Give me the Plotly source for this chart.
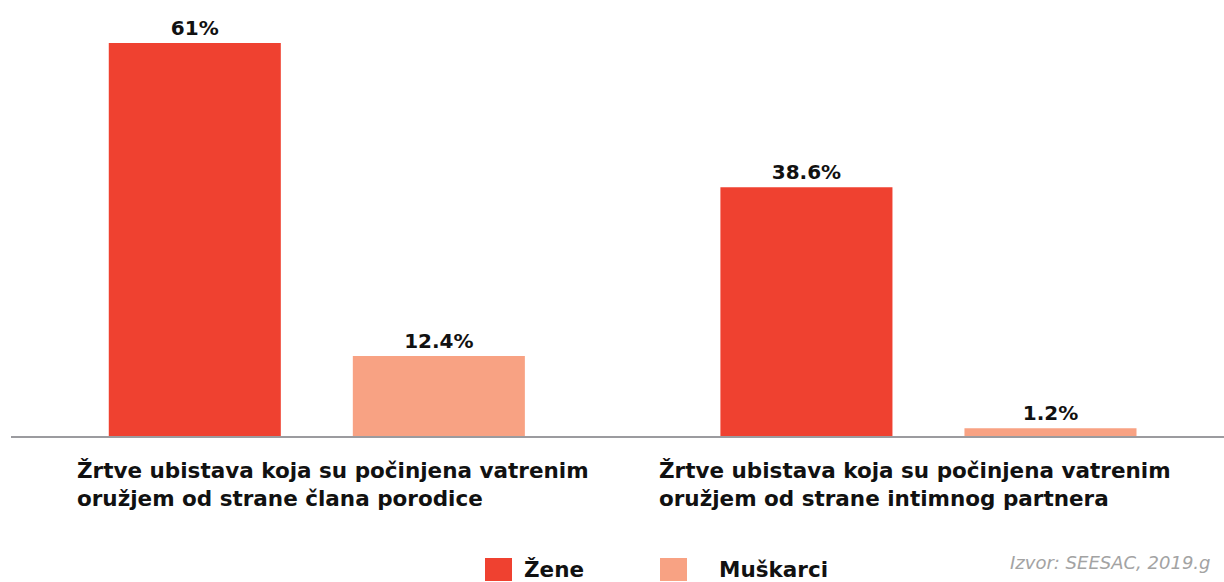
import plotly.graph_objects as go

categories = [
    "Žrtve ubistava koja su počinjena vatrenim<br>oružjem od strane člana porodice",
    "Žrtve ubistava koja su počinjena vatrenim<br>oružjem od strane intimnog partnera",
]
series_names = ["Žene", "Muškarci"]
zene = [61, 38.6]
muskarci = [12.4, 1.2]
value_labels_zene = ["61%", "38.6%"]
value_labels_muskarci = ["12.4%", "1.2%"]
source_text = "Izvor: SEESAC, 2019.g"

colors = ["#EF4130", "#F8A283"]
FONT = "DejaVu Sans"
xpos = list(range(len(categories)))
label_offsets = [-0.3957, -0.444]

fig = go.Figure()
for name, vals, labels, col in [
    (series_names[0], zene, value_labels_zene, colors[0]),
    (series_names[1], muskarci, value_labels_muskarci, colors[1]),
]:
    fig.add_trace(go.Bar(
        x=xpos, y=vals, name=name, marker_color=col, marker_line_width=0,
        text=labels, texttemplate="%{text}", textposition="outside",
        textfont=dict(family=FONT, size=20, color="#111111", weight="bold"),
        cliponaxis=False, showlegend=False,
    ))

# category labels
for i, c in enumerate(categories):
    fig.add_annotation(
        x=xpos[i] + label_offsets[i], y=0, xref="x", yref="y", xanchor="left", yanchor="top",
        yshift=-20, text=c, showarrow=False, align="left",
        font=dict(family=FONT, size=21.5, color="#111111", weight="bold"),
    )

# custom legend
H = 419
W = 1213
leg_x = [485, 660]
leg_tx = [524, 719]
for i, name in enumerate(series_names):
    fig.add_shape(type="rect", xref="paper", yref="paper",
                  x0=(leg_x[i] - 11) / W, x1=(leg_x[i] + 27 - 11) / W,
                  y0=-(581 - 436) / H, y1=-(558 - 436) / H,
                  fillcolor=colors[i], line_width=0)
    fig.add_annotation(xref="paper", yref="paper", x=(leg_tx[i] - 13) / W,
                       y=-(569 - 436) / H, xanchor="left", yanchor="middle",
                       text=name, showarrow=False,
                       font=dict(family=FONT, size=21.5, color="#111111", weight="bold"))

fig.add_annotation(xref="paper", yref="paper", x=(1008 - 11) / W,
                   y=-(562 - 436) / H, xanchor="left", yanchor="middle",
                   text=source_text, showarrow=False,
                   font=dict(family=FONT, size=18, color="#a3a3a3", style="italic"))

fig.update_layout(
    width=1224, height=582,
    margin=dict(l=11, r=0, t=17, b=146),
    barmode="group", bargap=0.202, bargroupgap=0.295,
    plot_bgcolor="white", paper_bgcolor="white",
    xaxis=dict(range=[-0.5, 1.4832], showticklabels=False, showgrid=False,
               zeroline=False, showline=True, linecolor="#9b9b9f", linewidth=2,
               ticks=""),
    yaxis=dict(range=[0, 65.04], visible=False, showgrid=False, zeroline=False),
)

fig.write_html("out.html")
